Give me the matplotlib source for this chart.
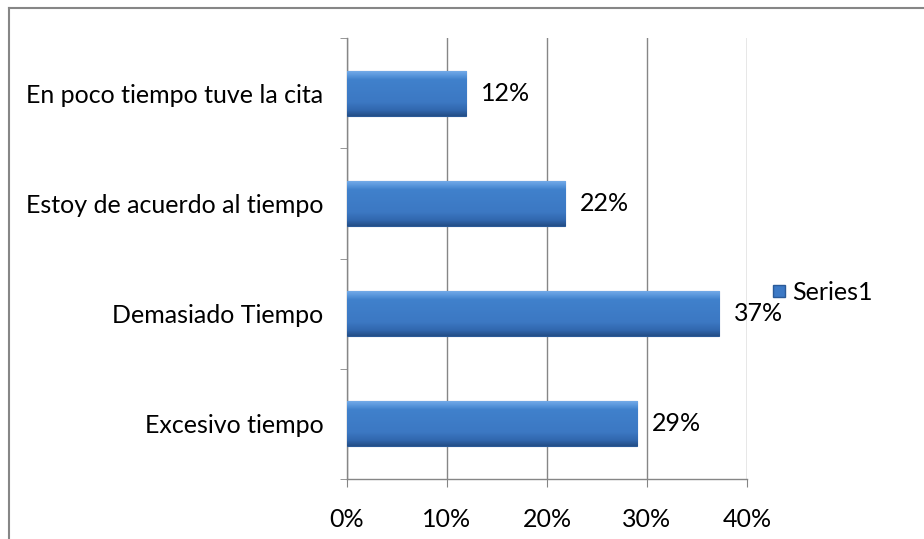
import numpy as np
import matplotlib.pyplot as plt
from matplotlib.lines import Line2D
from matplotlib.colors import LinearSegmentedColormap

categories = ['Excesivo tiempo', 'Demasiado Tiempo', 'Estoy de acuerdo al tiempo', 'En poco tiempo tuve la cita']
values = [0.29, 0.372, 0.218, 0.119]
xticks = [0.0, 0.1, 0.2, 0.3, 0.4]
series_name = 'Series1'

plt.rcParams['font.family'] = ['Lato', 'DejaVu Sans']
fs = 18

fig = plt.figure(figsize=(9.24, 5.39), dpi=100)
ax = fig.add_axes([0.3755, 0.1113, 0.433, 0.8182])

y = np.arange(len(categories))
bar_h = 0.41
bars = ax.barh(y, values, height=bar_h, color='#3C79C5', edgecolor='#2A5A98', linewidth=0.8, zorder=3)

# vertical shading on each bar: dark lower edge, flat body, light bevel on top
shade = LinearSegmentedColormap.from_list(
    'shade', [(0.0, '#244F88'), (0.12, '#3167AE'), (0.3, '#3C78C3'),
              (0.8, '#4081CC'), (0.9, '#5B98DD'), (1.0, '#78AEEA')])
grad = np.linspace(0, 1, 64).reshape(-1, 1)
for b, v, yi in zip(bars, values, y):
    im = ax.imshow(grad, cmap=shade, aspect='auto', origin='lower',
                   extent=[0, v, yi - bar_h / 2, yi + bar_h / 2], zorder=3.5)
    im.set_clip_path(b)
    ax.text(v + 0.015, yi, '{:.0%}'.format(v), va='center', ha='left', fontsize=fs, color='black', zorder=5)

ax.set_xlim(0, 0.4)
ax.set_ylim(-0.5, len(categories) - 0.5)
ax.set_xticks(xticks)
ax.set_xticklabels(['{:.0%}'.format(t) for t in xticks], fontsize=fs)
ax.set_yticks(y)
ax.set_yticklabels(categories, fontsize=fs)
ax.set_yticks(np.arange(-0.5, len(categories), 1), minor=True)
ax.tick_params(axis='y', which='major', length=0, pad=17)
ax.tick_params(axis='y', which='minor', length=5, color='#868686')
ax.tick_params(axis='x', length=6, color='#868686', pad=15)

ax.grid(axis='x', color='#868686', linewidth=1, zorder=0)
for s in ['top', 'right']:
    ax.spines[s].set_visible(False)
for s in ['left', 'bottom']:
    ax.spines[s].set_color('#868686')
    ax.spines[s].set_linewidth(1)

handle = Line2D([], [], marker='s', linestyle='none', markersize=9,
                markerfacecolor='#3C79C5', markeredgecolor='#2A5A98')
fig.legend([handle], [series_name], loc='center left', bbox_to_anchor=(0.834, 0.458),
           frameon=False, fontsize=fs, handlelength=0.7, handletextpad=0.15, borderpad=0, borderaxespad=0)

# outer chart frame (left and top edges)
fig.add_artist(Line2D([0.0092, 0.0092], [0, 0.985], transform=fig.transFigure, color='#868686', linewidth=1.5))
fig.add_artist(Line2D([0.0092, 1.0], [0.985, 0.985], transform=fig.transFigure, color='#868686', linewidth=1.5))

fig.savefig('out.png', dpi=100)
